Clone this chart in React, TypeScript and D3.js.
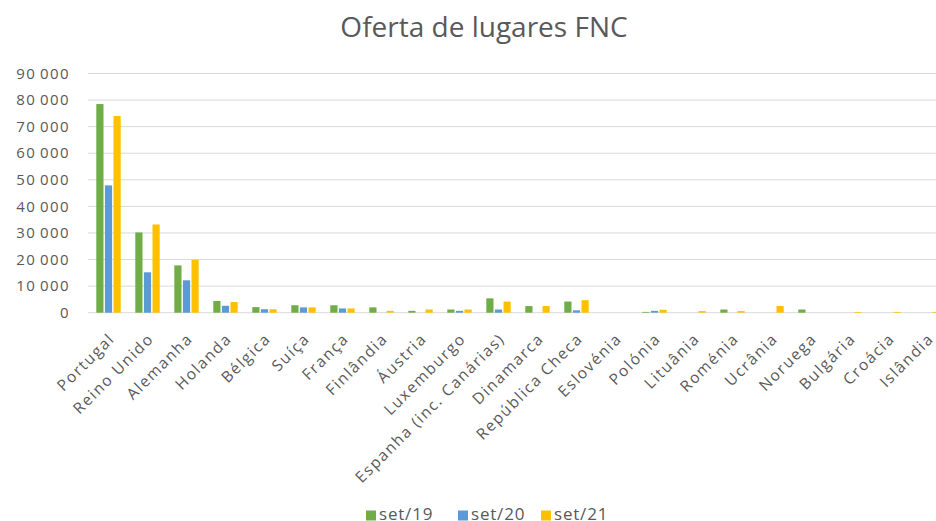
import React, { useEffect, useRef } from 'react';
import * as d3 from 'd3';

const countries = [
  'Portugal', 'Reino Unido', 'Alemanha', 'Holanda', 'Bélgica', 'Suíça', 'França',
  'Finlândia', 'Áustria', 'Luxemburgo', 'Espanha (inc. Canárias)', 'Dinamarca',
  'República Checa', 'Eslovénia', 'Polónia', 'Lituânia', 'Roménia', 'Ucrânia',
  'Noruega', 'Bulgária', 'Croácia', 'Islândia'
];
const seriesNames = ['set/19', 'set/20', 'set/21'];
const set19 = [78500, 30200, 17800, 4400, 2100, 2800, 2800, 2000, 700, 1200, 5400, 2500, 4200, 0, 300, 0, 1200, 0, 1200, 0, 0, 0];
const set20 = [47900, 15200, 12200, 2600, 1300, 2000, 1600, 0, 0, 700, 1200, 0, 900, 0, 700, 0, 0, 0, 0, 0, 0, 0];
const set21 = [74000, 33200, 19900, 4000, 1300, 2000, 1600, 700, 1200, 1200, 4200, 2500, 4700, 0, 1100, 600, 600, 2500, 0, 300, 300, 300];
const yTicks = [0, 10000, 20000, 30000, 40000, 50000, 60000, 70000, 80000, 90000];
const colors = ['#70AD47', '#5B9BD5', '#FFC000'];

const App: React.FC = () => {
  const svgRef = useRef<SVGSVGElement>(null);

  useEffect(() => {
    if (!svgRef.current) return;
    const svg = d3.select(svgRef.current);
    svg.selectAll('*').remove();

    const font = '"Open Sans", sans-serif';
    const textColor = '#595959';
    const allSeries = [set19, set20, set21];

    const x = d3.scaleBand<string>()
      .domain(countries)
      .range([89, 947]);

    const y = d3.scaleLinear()
      .domain([0, 90000])
      .range([312.7, 73.5]);

    // title
    svg.append('text')
      .attr('x', 484)
      .attr('y', 37)
      .attr('text-anchor', 'middle')
      .attr('font-family', font)
      .attr('font-size', 28)
      .attr('fill', textColor)
      .text('Oferta de lugares FNC');

    // gridlines
    svg.append('g')
      .selectAll('line')
      .data(yTicks)
      .enter().append('line')
      .attr('x1', 88)
      .attr('x2', 947)
      .attr('y1', d => y(d))
      .attr('y2', d => y(d))
      .attr('stroke', '#D9D9D9')
      .attr('stroke-width', 1);

    // y labels
    const fmt = (v: number) => d3.format(',')(v).replace(/,/g, '\u2009');
    svg.append('g')
      .selectAll('text')
      .data(yTicks)
      .enter().append('text')
      .attr('x', 70)
      .attr('y', d => y(d))
      .attr('dy', '0.35em')
      .attr('text-anchor', 'end')
      .attr('font-family', font)
      .attr('font-size', 15)
      .attr('letter-spacing', 1.4)
      .attr('fill', textColor)
      .text(d => fmt(d));

    // bars
    const step = 8.6;
    const bw = 7.2;
    allSeries.forEach((vals, si) => {
      svg.append('g')
        .selectAll('rect')
        .data(vals)
        .enter().append('rect')
        .attr('x', (_, i) => (x(countries[i]) as number) + x.bandwidth() / 2 + (si - 1) * step - bw / 2)
        .attr('y', d => y(d))
        .attr('width', bw)
        .attr('height', d => y(0) - y(d))
        .attr('fill', colors[si]);
    });

    // x labels
    svg.append('g')
      .selectAll('text')
      .data(countries)
      .enter().append('text')
      .attr('transform', d => `translate(${(x(d) as number) + x.bandwidth() / 2 + 3.3},${336}) rotate(-45)`)
      .attr('text-anchor', 'end')
      .attr('dy', '0.35em')
      .attr('font-family', font)
      .attr('font-size', 15.5)
      .attr('letter-spacing', 1.6)
      .attr('fill', textColor)
      .text(d => d);

    // legend
    const legendX = [366, 458, 541];
    const lg = svg.append('g');
    seriesNames.forEach((name, i) => {
      lg.append('rect')
        .attr('x', legendX[i])
        .attr('y', 510.5)
        .attr('width', 10)
        .attr('height', 10)
        .attr('fill', colors[i]);
      lg.append('text')
        .attr('x', legendX[i] + 13)
        .attr('y', 520)
        .attr('font-family', font)
        .attr('font-size', 17)
        .attr('letter-spacing', 0.8)
        .attr('fill', textColor)
        .text(name);
    });
  }, []);

  return (
    <svg
      ref={svgRef}
      width="936"
      height="521"
      style={{ position: 'absolute', left: 0, top: 0, background: '#fff' }}
    />
  );
};

export default App;
